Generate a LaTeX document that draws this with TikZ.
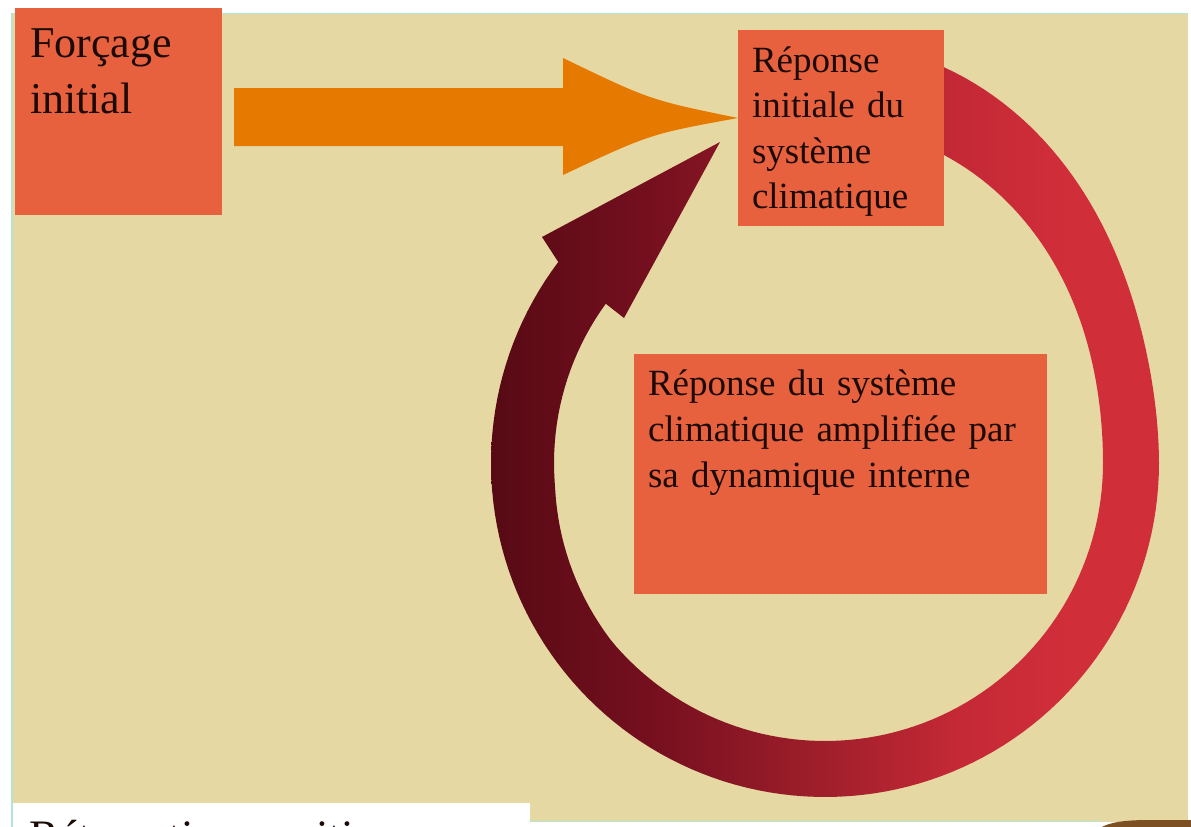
\documentclass[tikz,border=0pt]{standalone}
\usepackage{fontspec}
\setmainfont{Liberation Serif}
\definecolor{beige}{RGB}{230,216,163}
\definecolor{boxfill}{RGB}{232,97,62}
\definecolor{orangearrow}{RGB}{230,121,0}
\definecolor{txtcol}{RGB}{28,10,6}
\definecolor{edgeteal}{RGB}{180,228,212}
\definecolor{blobbrown}{RGB}{125,80,35}
\pgfdeclarehorizontalshading{ringshade}{100bp}{%
  rgb(0bp)=(0.34,0.04,0.08);
  rgb(25bp)=(0.34,0.04,0.08);
  rgb(37bp)=(0.46,0.06,0.12);
  rgb(50bp)=(0.63,0.12,0.17);
  rgb(60bp)=(0.77,0.16,0.21);
  rgb(68bp)=(0.815,0.18,0.225);
  rgb(100bp)=(0.815,0.18,0.225)}
\tikzset{
  box/.style={fill=boxfill, inner sep=0pt, outer sep=0pt, anchor=north west},
  txt/.style={text=txtcol, inner sep=0pt, outer sep=0pt, anchor=base west, align=left},
}
\begin{document}
\begin{tikzpicture}[x=1pt,y=-1pt]
\useasboundingbox (0,0) rectangle (1191,827);
\fill[white] (0,0) rectangle (1191,827);
% background panel
\fill[beige] (12,13) rectangle (1188,822);
\draw[edgeteal, line width=1.5pt] (12,827) -- (12,13.5) -- (1188,13.5);
\draw[edgeteal, line width=1pt] (530,821.5) -- (1100,821.5);
% brown blob bottom right
\fill[blobbrown] (1100,828) .. controls (1110,822) and (1125,820) .. (1150,820) -- (1191,820) -- (1191,828) -- cycle;
% bottom white box
\node[box, fill=white, minimum width=517pt, minimum height=30pt] (retro) at (13,803) {};
\node[txt, font=\fontsize{45}{56}\selectfont, text width=500pt] (retrotxt) at (29,851) {Rétroaction positive};
% feedback ring arrow (outer edge clockwise, arrow head, inner edge back)
\coordinate (ringc) at (825,463);
\shade[shading=ringshade]
  plot[domain=-78:0, samples=50, variable=\t]
    ({825+(334+88*pow(abs(sin(\t)),2.4))*cos(\t)}, {463+(334+88*pow(abs(sin(\t)),2.4))*sin(\t)})
  -- plot[domain=0:217, samples=110, variable=\t]
    ({825+334*cos(\t)}, {463+334*sin(\t)})
  -- (542,237) coordinate (wingL)
  -- (720,142) coordinate (ringtip)
  -- (624,318) coordinate (wingR)
  -- plot[domain=216:0, samples=110, variable=\t]
    ({825+(271+7*min(1,max(0,(175-\t)/35)))*cos(\t)}, {463+(271+7*min(1,max(0,(175-\t)/35)))*sin(\t)})
  -- plot[domain=0:-75, samples=50, variable=\t]
    ({825+(278+60*sin(\t)*sin(\t))*cos(\t)}, {463+(278+60*sin(\t)*sin(\t))*sin(\t)})
  -- cycle;
% boxes
\node[box, minimum width=207pt, minimum height=207pt] (forcage) at (15,8) {};
\node[box, minimum width=206pt, minimum height=196pt] (reponse) at (738,30) {};
\node[box, minimum width=413pt, minimum height=240pt] (amplif) at (634,354) {};
% orange forcing arrow
\fill[orangearrow] (234,88) -- (563,88) -- (563,58) .. controls (650,100) .. (738,118)
  .. controls (650,134) .. (563,175) -- (563,146) -- (234,146) -- cycle;
% texts
\node[txt, font=\fontsize{44}{56}\selectfont, text width=190pt] (forcagetxt) at (30,57) {Forçage\\initial};
\node[txt, font=\fontsize{37}{45.5}\selectfont, text width=190pt] (reponsetxt) at (752,72) {Réponse\\initiale du\\système\\climatique};
\node[txt, font=\fontsize{37}{46}\selectfont, text width=395pt] (amplittxt) at (648,395) {Réponse du système\\climatique amplifiée par\\sa dynamique interne};
\end{tikzpicture}
\end{document}
